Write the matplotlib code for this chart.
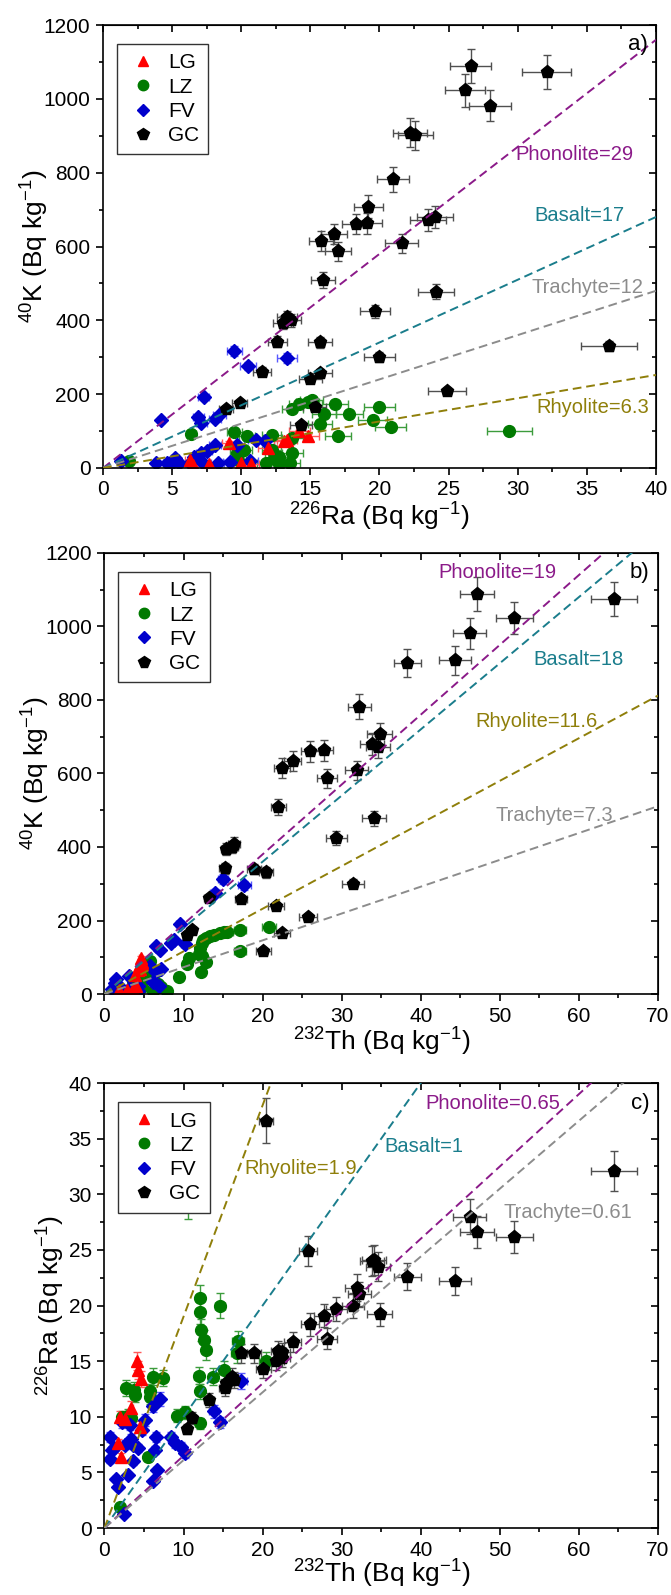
import matplotlib
matplotlib.use("Agg")
import matplotlib.pyplot as plt
from matplotlib.lines import Line2D
from matplotlib.ticker import MultipleLocator
import numpy as np

plt.rcParams['font.family'] = ['Liberation Sans', 'DejaVu Sans']
plt.rcParams['mathtext.default'] = 'regular'

# GC samples: 226Ra, 232Th, 40K (Bq/kg), same samples in the three panels
gc_ra = [26.6, 32.1, 26.2, 28.0, 22.2, 22.6, 21.0, 19.2, 24.0, 23.5, 19.1, 18.3, 16.7, 15.8, 21.6, 17.0, 15.9,
         24.1, 19.7, 13.3, 13.0, 13.6, 12.6, 15.7, 36.6, 20.0, 11.5, 15.7, 15.0, 24.9, 9.9, 8.9, 15.3, 14.3]
gc_th = [47.1, 64.4, 51.8, 46.2, 44.3, 38.3, 32.2, 34.8, 33.8, 34.6, 27.7, 26.0, 23.8, 22.5, 31.9, 28.1, 22.0,
         34.1, 29.3, 16.4, 15.4, 16.1, 15.2, 18.9, 20.4, 31.4, 13.2, 17.3, 21.7, 25.7, 11.1, 10.4, 22.5, 20.1]
gc_k = [1089, 1074, 1023, 982, 908, 901, 782, 708, 680, 672, 663, 661, 633, 615, 609, 587, 510,
        478, 424, 409, 394, 400, 342, 340, 331, 300, 261, 258, 240, 209, 175, 160, 166, 117]

# Panel a) 40K vs 226Ra
lz_a_ra = [29.4, 15.1, 16.8, 20.0, 14.2, 13.7, 16.0, 17.8, 19.5, 15.7, 20.8, 17.0, 6.4, 9.5, 10.4, 12.2, 13.7,
           9.7, 10.2, 12.2, 13.7, 11.8, 12.7, 13.5, 1.9, 12.7, 9.8, 14.8, 12.4]
lz_a_k = [100, 183, 173, 164, 172, 160, 146, 145, 130, 120, 112, 87, 93, 97, 87, 90, 82,
          40, 48, 48, 40, 13, 12, 13, 20, 31, 22, 180, 26]
fv_a_ra = [9.5, 13.3, 10.5, 7.3, 4.2, 6.9, 7.1, 8.1, 8.4, 8.1, 7.5, 7.1, 9.7, 11.1, 11.7, 1.3, 3.8, 4.6,
           5.2, 5.5, 6.3, 7.2, 8.3, 9.2, 4.9, 6.6, 10.6]
fv_a_k = [316, 298, 276, 193, 130, 137, 121, 133, 144, 63, 45, 40, 63, 76, 72, 18, 13, 13,
          27, 13, 13, 13, 13, 15, 11, 30, 20]
lg_a_ra = [9.1, 13.3, 14.2, 14.8, 13.1, 11.9, 10.7, 6.3, 7.7, 10.0, 6.5]
lg_a_k = [69, 75, 99, 87, 73, 53, 12, 22, 12, 13, 8]

# Panel b) 40K vs 232Th
lz_b_th = [20.8, 17.1, 15.1, 14.6, 13.9, 13.3, 12.9, 12.5, 12.3, 12.1, 17.1, 12.3, 10.7, 12.8, 10.4, 12.2,
           9.4, 5.8, 6.6, 5.5, 7.2, 6.1, 4.7, 3.6, 6.8, 7.9, 5.0, 12.0, 15.5]
lz_b_k = [183, 173, 170, 165, 161, 158, 153, 147, 140, 125, 117, 104, 97, 86, 81, 60,
          45, 90, 63, 50, 18, 9, 20, 36, 28, 8, 40, 110, 168]
fv_b_th = [15.0, 17.7, 14.0, 9.5, 8.8, 6.5, 7.0, 10.2, 8.4, 5.8, 7.2, 6.5, 6.9, 1.4, 0.9, 3.1, 4.2, 2.0,
           4.2, 6.1, 3.2, 1.3]
fv_b_k = [314, 296, 275, 190, 146, 131, 120, 135, 140, 77, 68, 59, 23, 41, 14, 50, 23, 18,
          9, 32, 16, 29]
lg_b_th = [4.6, 4.7, 4.4, 4.5, 4.3, 4.8, 3.9, 4.0, 1.8, 2.8, 3.6]
lg_b_k = [99, 87, 75, 69, 64, 82, 53, 22, 12, 12, 13]

# Panel c) 226Ra vs 232Th
lz_c_th = [12.1, 12.1, 14.6, 12.2, 12.6, 12.9, 16.9, 15.1, 13.7, 11.9, 12.1, 12.1, 10.2, 9.2, 10.6, 20.4,
           2.7, 3.7, 3.9, 6.2, 7.4, 5.8, 5.7, 2.2, 3.0, 5.5, 2.0, 16.8, 3.3]
lz_c_ra = [20.7, 19.4, 20.0, 17.8, 16.9, 16.0, 16.8, 14.2, 13.6, 13.7, 12.3, 9.4, 10.4, 10.1, 29.4, 15.0,
           12.6, 12.4, 12.0, 13.6, 13.5, 12.3, 11.8, 10.0, 10.1, 6.4, 1.9, 15.7, 9.9]
fv_c_th = [7.0, 6.2, 5.1, 0.7, 0.7, 1.0, 3.2, 2.6, 3.6, 4.3, 4.7, 3.6, 3.0, 1.5, 1.7, 2.5, 6.5, 6.4,
           6.6, 6.2, 8.4, 8.9, 9.7, 10.2, 13.8, 14.6, 17.3, 2.2, 1.2, 3.3]
fv_c_ra = [11.6, 11.0, 9.7, 8.2, 6.2, 7.0, 9.3, 7.5, 7.5, 7.2, 8.8, 6.0, 4.8, 4.4, 3.7, 1.3, 8.2, 7.0,
           5.2, 4.2, 8.2, 7.6, 7.3, 6.7, 10.5, 9.5, 13.2, 9.5, 7.2, 8.0]
lg_c_th = [4.1, 4.3, 4.6, 3.4, 2.0, 4.5, 1.7, 2.1, 2.6]
lg_c_ra = [15.0, 14.2, 13.4, 10.8, 10.0, 9.1, 7.6, 6.4, 9.8]

# Relative measurement uncertainties
ra_err = 0.055
th_err = 0.045
k_err = 0.043

# Reference rock ratios: (label, slope, colour, label x, label y)
lines_a = [("Phonolite=29", 29, "#8B1A89", 38.4, 850),
           ("Basalt=17", 17, "#1A7D8C", 37.7, 685),
           ("Trachyte=12", 12, "#8C8C8C", 39.1, 490),
           ("Rhyolite=6.3", 6.3, "#8F7F0A", 39.5, 165)]
lines_b = [("Phonolite=19", 19, "#8B1A89", 57.2, 1146),
           ("Basalt=18", 18, "#1A7D8C", 65.6, 911),
           ("Rhyolite=11.6", 11.6, "#8F7F0A", 62.4, 742),
           ("Trachyte=7.3", 7.3, "#8C8C8C", 64.3, 485)]
lines_c = [("Phonolite=0.65", 0.65, "#8B1A89", 57.7, 38.2),
           ("Basalt=1", 1.0, "#1A7D8C", 45.4, 34.3),
           ("Rhyolite=1.9", 1.9, "#8F7F0A", 31.9, 32.3),
           ("Trachyte=0.61", 0.61, "#8C8C8C", 66.8, 28.4)]

groups = {
    "LG": dict(marker="^", color="#FF0000", ecolor="#FF5A5A", ms=8),
    "LZ": dict(marker="o", color="#007A00", ecolor="#3C9C3C", ms=8.5),
    "FV": dict(marker="D", color="#0000CC", ecolor="#5A5AFF", ms=7.3),
    "GC": dict(marker="p", color="#000000", ecolor="#505050", ms=9.5),
}


def draw_group(ax, name, x, y, xe, ye):
    g = groups[name]
    x = np.array(x)
    y = np.array(y)
    ax.errorbar(x, y, xerr=x * xe, yerr=y * ye, fmt=g["marker"], ms=g["ms"],
                mfc=g["color"], mec=g["color"], ecolor=g["ecolor"], elinewidth=1,
                capsize=3, capthick=1, zorder=2)


def style_axes(ax, xmax, ymax, xmaj, ymaj, panel):
    ax.set_xlim(0, xmax)
    ax.set_ylim(0, ymax)
    ax.xaxis.set_major_locator(MultipleLocator(xmaj))
    ax.xaxis.set_minor_locator(MultipleLocator(xmaj / 2))
    ax.yaxis.set_major_locator(MultipleLocator(ymaj))
    ax.yaxis.set_minor_locator(MultipleLocator(ymaj / 2))
    ax.tick_params(which="both", direction="out", width=1.2, labelsize=15, pad=4)
    ax.tick_params(which="major", length=5)
    ax.tick_params(which="minor", length=3)
    for s in ax.spines.values():
        s.set_linewidth(1.2)

    # Mirror ticks pointing inward on top and right
    top = ax.secondary_xaxis("top")
    top.xaxis.set_major_locator(MultipleLocator(xmaj))
    top.xaxis.set_minor_locator(MultipleLocator(xmaj / 2))
    top.tick_params(which="both", direction="in", width=1.2, labeltop=False)
    top.tick_params(which="major", length=5)
    top.tick_params(which="minor", length=3)
    right = ax.secondary_yaxis("right")
    right.yaxis.set_major_locator(MultipleLocator(ymaj))
    right.yaxis.set_minor_locator(MultipleLocator(ymaj / 2))
    right.tick_params(which="both", direction="in", width=1.2, labelright=False)
    right.tick_params(which="major", length=5)
    right.tick_params(which="minor", length=3)

    ax.text(0.985, 0.955, panel, transform=ax.transAxes, ha="right", va="center", fontsize=16)

    handles = [Line2D([], [], ls="", marker=groups[n]["marker"], color=groups[n]["color"],
                      ms=groups[n]["ms"] - 1) for n in groups]
    leg = ax.legend(handles, list(groups), loc="upper left", bbox_to_anchor=(0.025, 0.957),
                    borderaxespad=0, fontsize=15, frameon=True, fancybox=False, framealpha=1,
                    handletextpad=0.4, labelspacing=0.25, borderpad=0.45, handlelength=1.6)
    leg.get_frame().set_edgecolor("#333333")
    leg.get_frame().set_linewidth(1.0)
    leg.set_zorder(10)


def draw_lines(ax, xmax, lines):
    for label, slope, color, lx, ly in lines:
        ax.plot([0, xmax], [0, slope * xmax], ls=(0, (4.5, 2.5)), color=color, lw=1.4, zorder=3)
        ax.text(lx, ly, label, color=color, fontsize=14.5, ha="right", va="center", zorder=4)


fig = plt.figure(figsize=(6.71, 15.95), dpi=100)

# a) 40K vs 226Ra
ax = fig.add_axes([0.1535, 0.7066, 0.8241, 0.2777])
draw_group(ax, "LZ", lz_a_ra, lz_a_k, ra_err, k_err)
draw_group(ax, "FV", fv_a_ra, fv_a_k, ra_err, k_err)
draw_group(ax, "LG", lg_a_ra, lg_a_k, ra_err, k_err)
draw_group(ax, "GC", gc_ra, gc_k, ra_err, k_err)
draw_lines(ax, 40, lines_a)
style_axes(ax, 40, 1200, 5, 200, "a)")
ax.set_xlabel(r"$^{226}$Ra (Bq kg$^{-1}$)", fontsize=19, labelpad=1)
ax.set_ylabel(r"$^{40}$K (Bq kg$^{-1}$)", fontsize=19, labelpad=-5)

# b) 40K vs 232Th
ax = fig.add_axes([0.1557, 0.3768, 0.8249, 0.2765])
draw_group(ax, "LZ", lz_b_th, lz_b_k, th_err, k_err)
draw_group(ax, "FV", fv_b_th, fv_b_k, th_err, k_err)
draw_group(ax, "LG", lg_b_th, lg_b_k, th_err, k_err)
draw_group(ax, "GC", gc_th, gc_k, th_err, k_err)
draw_lines(ax, 70, lines_b)
style_axes(ax, 70, 1200, 10, 200, "b)")
ax.set_xlabel(r"$^{232}$Th (Bq kg$^{-1}$)", fontsize=19, labelpad=0)
ax.set_ylabel(r"$^{40}$K (Bq kg$^{-1}$)", fontsize=19, labelpad=-5)

# c) 226Ra vs 232Th
ax = fig.add_axes([0.1557, 0.0420, 0.8249, 0.2790])
draw_group(ax, "LZ", lz_c_th, lz_c_ra, th_err, ra_err)
draw_group(ax, "FV", fv_c_th, fv_c_ra, th_err, ra_err)
draw_group(ax, "LG", lg_c_th, lg_c_ra, th_err, ra_err)
draw_group(ax, "GC", gc_th, gc_ra, th_err, ra_err)
draw_lines(ax, 70, lines_c)
style_axes(ax, 70, 40, 10, 5, "c)")
ax.set_xlabel(r"$^{232}$Th (Bq kg$^{-1}$)", fontsize=19, labelpad=-1)
ax.set_ylabel(r"$^{226}$Ra (Bq kg$^{-1}$)", fontsize=19, labelpad=1)

fig.savefig("out.png", dpi=100)
